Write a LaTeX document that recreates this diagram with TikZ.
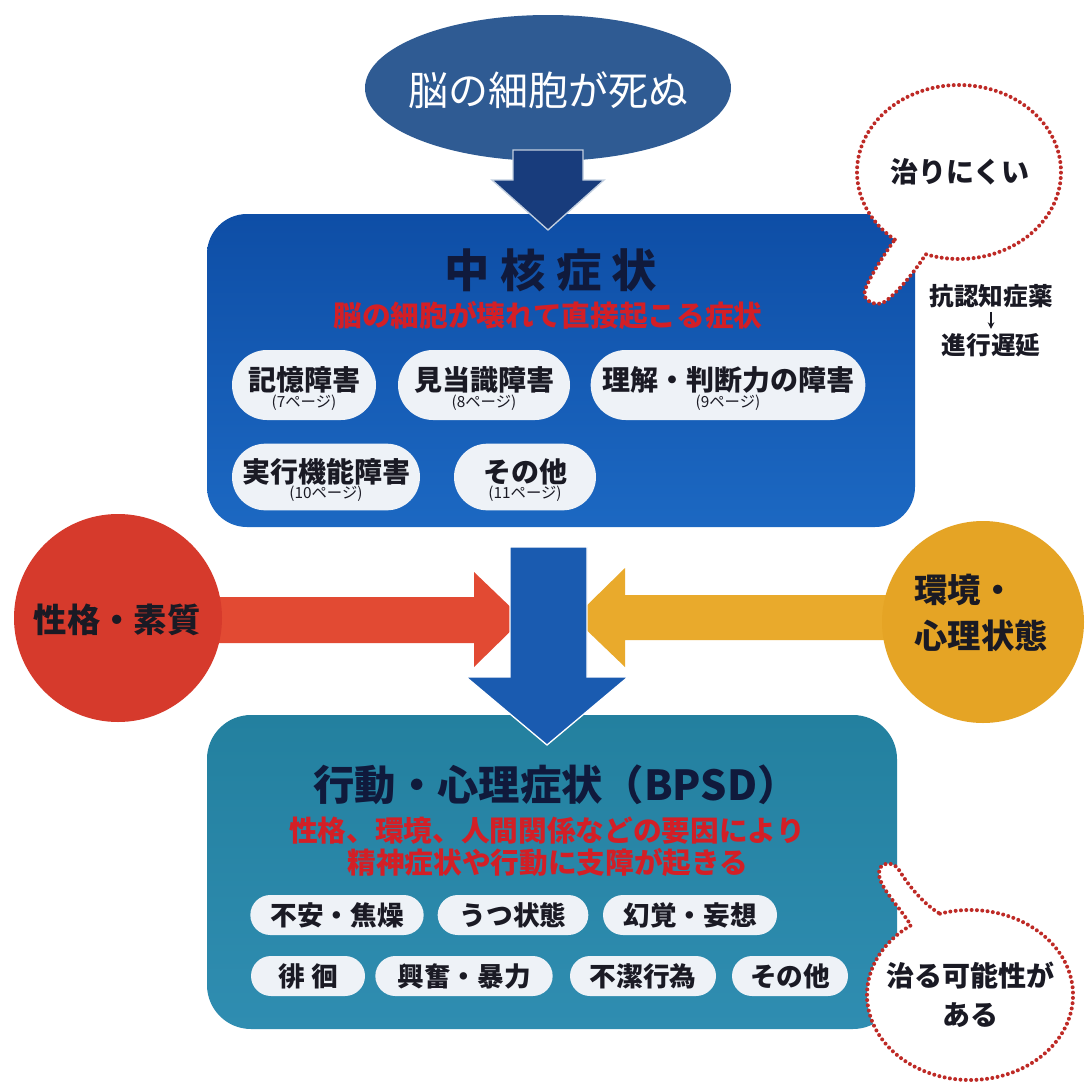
\documentclass[tikz,border=0pt]{standalone}
\usepackage{fontspec}
\setmainfont{Noto Sans CJK JP}
\usetikzlibrary{shapes.geometric,shapes.misc,arrows.meta}
\definecolor{ellipsec}{HTML}{2F5B93}
\definecolor{toparrowc}{HTML}{183C7C}
\definecolor{coretop}{HTML}{0E4EA6}
\definecolor{corebot}{HTML}{1C68C2}
\definecolor{midarrowc}{HTML}{1A5BB0}
\definecolor{redc}{HTML}{D63A2C}
\definecolor{redarrowc}{HTML}{E24A33}
\definecolor{orangec}{HTML}{E5A425}
\definecolor{orangearrowc}{HTML}{E9AA2C}
\definecolor{tealtop}{HTML}{23809F}
\definecolor{tealbot}{HTML}{2F8DB1}
\definecolor{pillfill}{HTML}{EEF2F7}
\definecolor{redtext}{HTML}{D31F26}
\definecolor{titletext}{HTML}{101A3C}
\definecolor{dotred}{HTML}{BE2A26}
\definecolor{inktext}{HTML}{1A1A24}
\newcommand\jfs[1]{\fontsize{#1pt}{#1pt}\selectfont}
\begin{document}
\begin{tikzpicture}[x=0.75pt,y=-0.75pt,
  pill/.style={rounded rectangle, fill=pillfill, inner sep=0pt},
  ptxt/.style={inner sep=0pt, text=inktext, font=\bfseries\jfs{21}},
  pgtxt/.style={inner sep=0pt, text=inktext, font=\jfs{11.5}},
  btxt/.style={inner sep=0pt, text=inktext, font=\bfseries\jfs{20}},
  bubble/.style={draw=dotred, fill=white, line width=3pt, line cap=round, dash pattern=on 0pt off 4pt},
  blockarrow/.style={draw=white, line width=1pt, line join=miter}
]
\useasboundingbox[fill=white] (0,0) rectangle (1089,1085);

% top cause ellipse
\node[ellipse, fill=ellipsec, minimum width=274.5pt, minimum height=109.5pt, inner sep=0pt] (cause) at (548,88) {};
\node[text=white, font=\jfs{30}, inner sep=0pt] (causetxt) at (548,90) {脳の細胞が死ぬ};

% core symptoms box
\node[rectangle, rounded corners=30pt, minimum width=531pt, minimum height=234.75pt, top color=coretop, bottom color=corebot, inner sep=0pt] (core) at (561,370.5) {};
\path[fill=toparrowc, blockarrow, draw=white!70!ellipsec] (513,150) -- (583,150) -- (583,180) -- (604,180) -- (548,230) -- (492,180) -- (513,180) -- cycle;
\node[text=titletext, font=\bfseries\jfs{34}, inner sep=0pt] (coretitle) at (551,270) {中 核 症 状};
\node[text=redtext, font=\bfseries\jfs{21.5}, inner sep=0pt] (coresub) at (548,316) {脳の細胞が壊れて直接起こる症状};

\node[pill, minimum width=108pt, minimum height=52.5pt] (c1) at (304,385) {};
\node[ptxt] at ([yshift=4pt]c1.center) {記憶障害};
\node[pgtxt] at ([yshift=-13.5pt]c1.center) {(7ページ)};
\node[pill, minimum width=129pt, minimum height=52.5pt] (c2) at (484,385) {};
\node[ptxt] at ([yshift=4pt]c2.center) {見当識障害};
\node[pgtxt] at ([yshift=-13.5pt]c2.center) {(8ページ)};
\node[pill, minimum width=206pt, minimum height=52.5pt] (c3) at (728,385) {};
\node[ptxt] at ([yshift=4pt]c3.center) {理解・判断力の障害};
\node[pgtxt] at ([yshift=-13.5pt]c3.center) {(9ページ)};
\node[pill, minimum width=141pt, minimum height=50pt] (c4) at (326,477) {};
\node[ptxt] at ([yshift=4pt]c4.center) {実行機能障害};
\node[pgtxt] at ([yshift=-12.5pt]c4.center) {(10ページ)};
\node[pill, minimum width=106.5pt, minimum height=50pt] (c5) at (525,477) {};
\node[ptxt] at ([yshift=4pt]c5.center) {その他};
\node[pgtxt] at ([yshift=-12.5pt]c5.center) {(11ページ)};

% bubble 1
\draw[bubble] (894.8,239.6) arc[start angle=129, end angle=469, x radius=102, y radius=87]
  .. controls (917,268) and (902,288) .. (886,301)
  .. controls (877,308) and (861,301) .. (865,290)
  .. controls (871,274) and (886,252) .. (894.8,239.6) -- cycle;
\node[text=inktext, font=\bfseries\jfs{21}, inner sep=0pt] (hard) at (960,172) {治りにくい};
\node[text=inktext, font=\bfseries\jfs{18.5}, inner sep=0pt] (drug) at (991,296) {抗認知症薬};
\node[text=inktext, font=\bfseries\jfs{18.5}, inner sep=0pt] (delay) at (991,345) {進行遅延};
\draw[-{Stealth[length=5pt,width=5pt]}, line width=1.3pt, draw=inktext] ([yshift=-3pt]drug.south) -- ([yshift=3pt]delay.north);

% BPSD box
\node[rectangle, rounded corners=33pt, minimum width=517.5pt, minimum height=235.5pt, top color=tealtop, bottom color=tealbot, inner sep=0pt] (bpsd) at (552,872) {};

% side arrows and circles
\path[fill=redarrowc] (200,597) -- (474,597) -- (474,572) -- (523,619) -- (474,667) -- (474,643) -- (200,643) -- cycle;
\node[circle, fill=redc, minimum size=156pt, inner sep=0pt] (pers) at (118,618) {};
\node[text=inktext, font=\bfseries\jfs{25}, inner sep=0pt] (perstxt) at (117,620) {性格・素質};
\path[fill=orangearrowc] (900,595) -- (625,595) -- (625,568) -- (574,618) -- (625,667) -- (625,640) -- (900,640) -- cycle;
\node[circle, fill=orangec, minimum size=151.5pt, inner sep=0pt] (env) at (983,622) {};
\node[text=inktext, font=\bfseries\jfs{25}, inner sep=0pt, align=left] (envtxt) at (981,613) {環境・\\[9pt]心理状態};

% middle arrow
\path[fill=midarrowc, blockarrow] (510,547) -- (587,547) -- (587,677) -- (628,677) -- (547,745) -- (466,677) -- (510,677) -- cycle;

% BPSD content
\node[text=titletext, font=\bfseries\jfs{31}, inner sep=0pt] (bpsdtitle) at (556,785) {行動・心理症状（BPSD）};
\node[text=redtext, font=\bfseries\jfs{21.5}, inner sep=0pt] (bpsdsub1) at (547,831) {性格、環境、人間関係などの要因により};
\node[text=redtext, font=\bfseries\jfs{21.5}, inner sep=0pt] (bpsdsub2) at (548,863) {精神症状や行動に支障が起きる};

\node[pill, minimum width=130pt, minimum height=30pt] (b1) at (337,915) {};
\node[btxt] at (b1.center) {不安・焦燥};
\node[pill, minimum width=113pt, minimum height=30pt] (b2) at (513,915) {};
\node[btxt] at (b2.center) {うつ状態};
\node[pill, minimum width=130.5pt, minimum height=30pt] (b3) at (690,915) {};
\node[btxt] at (b3.center) {幻覚・妄想};
\node[pill, minimum width=85.5pt, minimum height=30pt] (b4) at (308,976) {};
\node[btxt] at (b4.center) {徘 徊};
\node[pill, minimum width=133pt, minimum height=30pt] (b5) at (464,976) {};
\node[btxt] at (b5.center) {興奮・暴力};
\node[pill, minimum width=109.5pt, minimum height=30pt] (b6) at (643,976) {};
\node[btxt] at (b6.center) {不潔行為};
\node[pill, minimum width=87pt, minimum height=30pt] (b7) at (790,976) {};
\node[btxt] at (b7.center) {その他};

% bubble 2
\draw[bubble] (939.9,913.7) arc[start angle=-107, end angle=235, x radius=103, y radius=85]
  .. controls (898,905) and (880,888) .. (879,874)
  .. controls (878,862) and (893,860) .. (899,870)
  .. controls (910,888) and (925,905) .. (939.9,913.7) -- cycle;
\node[text=inktext, font=\bfseries\jfs{21}, inner sep=0pt, align=center] (curable) at (970,995) {治る可能性が\\[8pt]ある};
\end{tikzpicture}
\end{document}
